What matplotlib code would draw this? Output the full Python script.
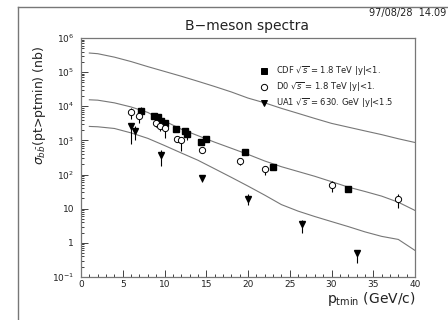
"""B-meson spectra: integrated sigma(pt > ptmin) with CDF, D0 and UA1 points."""

import matplotlib

matplotlib.use("Agg")
import matplotlib.pyplot as plt
from matplotlib.lines import Line2D
from matplotlib.ticker import FixedLocator, LogLocator, NullFormatter

# theory curves (pt grid shared by all three)
curve_pt = [1, 2, 4, 6, 8, 10, 12, 14, 16, 18, 20, 22, 24, 26, 28, 30, 32, 34, 36, 38, 40]
curve_top = [363000, 347000, 275000, 204000, 145000, 105000, 76000, 54000, 38000, 26300,
             17400, 12600, 8700, 6200, 4400, 3160, 2450, 1900, 1480, 1120, 870]
curve_mid = [15500, 15100, 12600, 9550, 6600, 3700, 2140, 1380, 890, 590, 390, 250, 170,
             123, 89, 62, 43, 32, 23.4, 15.5, 8.9]
curve_low = [2570, 2510, 2240, 1660, 1150, 710, 430, 263, 148, 83, 46, 25, 13.2, 8.5, 5.9,
             4.2, 3.0, 2.1, 1.55, 1.26, 0.6]

# CDF sqrt(s) = 1.8 TeV
cdf_pt = [7.2, 8.8, 9.2, 9.6, 10.1, 11.4, 12.4, 12.7, 14.4, 15.0, 19.6, 23.0, 32.0]
cdf_sigma = [7400, 5200, 4900, 3600, 3200, 2100, 1900, 1550, 910, 1120, 450, 165, 37]
cdf_lo = [5900, 4300, 4100, 2900, 2600, 1800, 1500, 1050, 780, 920, 370, 140, 30]
cdf_hi = [9300, 6200, 5800, 4400, 3900, 2500, 2300, 2300, 1080, 1350, 560, 195, 44]

# D0 sqrt(s) = 1.8 TeV
d0_pt = [6.0, 7.0, 9.0, 9.5, 10.0, 11.5, 12.0, 14.5, 19.0, 22.0, 30.0, 38.0]
d0_sigma = [7000, 5100, 3200, 2600, 2350, 1100, 1000, 540, 245, 148, 48, 19.5]
d0_lo = [4300, 3300, 2400, 1900, 1200, 900, 500, 420, 190, 100, 30, 10.7]
d0_hi = [8800, 6200, 3900, 3100, 2800, 1350, 1250, 640, 300, 175, 65, 27.5]

# UA1 sqrt(s) = 630 GeV
ua1_pt = [6.0, 6.5, 9.6, 14.5, 20.0, 26.5, 33.0]
ua1_sigma = [2600, 1950, 370, 80, 19.5, 3.5, 0.5]
ua1_lo = [800, 1050, 180, 60, 13, 2.0, 0.25]
ua1_hi = [3300, 2600, 540, 100, 27, 4.6, 0.6]

plt.rcParams["font.family"] = ["DejaVu Sans"]
INK = "#222222"
GREY = "#777777"


def yerr(values, lo, hi):
    return [[v - l for v, l in zip(values, lo)], [h - v for v, h in zip(values, hi)]]


fig = plt.figure(figsize=(4.48, 3.2), dpi=100)
ax = fig.add_axes([81 / 448, 1 - 277 / 320, 334 / 448, 239 / 320])

for curve in (curve_top, curve_mid, curve_low):
    ax.plot(curve_pt, curve, color=GREY, linewidth=0.8)

ax.errorbar(cdf_pt, cdf_sigma, yerr=yerr(cdf_sigma, cdf_lo, cdf_hi), fmt="s", color="black",
            markersize=5, elinewidth=0.8, capsize=0)
ax.errorbar(d0_pt, d0_sigma, yerr=yerr(d0_sigma, d0_lo, d0_hi), fmt="o", color="black",
            markerfacecolor="white", markersize=4.5, markeredgewidth=0.7, elinewidth=0.8, capsize=0)
ax.errorbar(ua1_pt, ua1_sigma, yerr=yerr(ua1_sigma, ua1_lo, ua1_hi), fmt="v", color="black",
            markersize=4.5, elinewidth=0.8, capsize=0)

ax.set_yscale("log")
ax.set_xlim(0, 40)
ax.set_ylim(0.1, 1e6)
ax.set_xticks(range(0, 41, 5))
ax.xaxis.set_minor_locator(FixedLocator(range(0, 41)))
ax.set_yticks([0.1, 1, 10, 100, 1e3, 1e4, 1e5, 1e6])
ax.set_yticklabels([r"10$^{-1}$", "1", "10", r"10$^{2}$", r"10$^{3}$", r"10$^{4}$",
                    r"10$^{5}$", r"10$^{6}$"])
ax.yaxis.set_minor_locator(LogLocator(base=10, subs=range(2, 10), numticks=20))
ax.yaxis.set_minor_formatter(NullFormatter())
ax.tick_params(which="both", direction="in", top=False, right=False, colors=INK,
               labelsize=6.5, width=0.6)
ax.tick_params(which="major", length=5)
ax.tick_params(axis="y", which="major", pad=5)
ax.tick_params(axis="x", which="major", pad=2)
ax.tick_params(which="minor", length=2.5)
for spine in ax.spines.values():
    spine.set_color(GREY)
    spine.set_linewidth(0.9)

# legend, drawn by hand in axes coordinates like the PAW original
legend_rows = [
    ("s", "black", r"CDF $\sqrt{s}$ = 1.8 TeV |y|<1."),
    ("o", "white", r"D0 $\sqrt{s}$ = 1.8 TeV |y|<1."),
    ("v", "black", r"UA1 $\sqrt{s}$ = 630. GeV |y|<1.5"),
]
for row, (marker, face, label) in enumerate(legend_rows):
    ypos = 0.86 - row * 0.067
    ax.plot([0.548], [ypos], marker=marker, color="black", markerfacecolor=face,
            markersize=4.5, markeredgewidth=0.7, transform=ax.transAxes, clip_on=False)
    ax.text(0.585, ypos, label, transform=ax.transAxes, fontsize=6, color=INK, va="center")

fig.text(247 / 448, 1 - 26 / 320, "B\u2212meson spectra", ha="center", va="center",
         fontsize=10, color=INK)
fig.text(446 / 448, 1 - 13 / 320, "97/08/28  14.09", ha="right", va="center",
         fontsize=7, color=INK)
fig.text(40 / 448, 1 - 105 / 320, r"$\sigma_{b\bar{b}}$(pt>ptmin) (nb)", rotation=90,
         ha="center", va="center", fontsize=9, color=INK)
fig.text(416 / 448, 1 - 299 / 320, r"p$_{\rm tmin}$ (GeV/c)", ha="right", va="center",
         fontsize=10, color=INK)

# outer PAW picture frame
fig.add_artist(Line2D([18 / 448, 18 / 448], [0, 1 - 7 / 320], transform=fig.transFigure,
                      color=GREY, linewidth=1.0))
fig.add_artist(Line2D([18 / 448, 1], [1 - 7 / 320, 1 - 7 / 320], transform=fig.transFigure,
                      color=GREY, linewidth=1.0))

fig.savefig("out.png", dpi=100)
